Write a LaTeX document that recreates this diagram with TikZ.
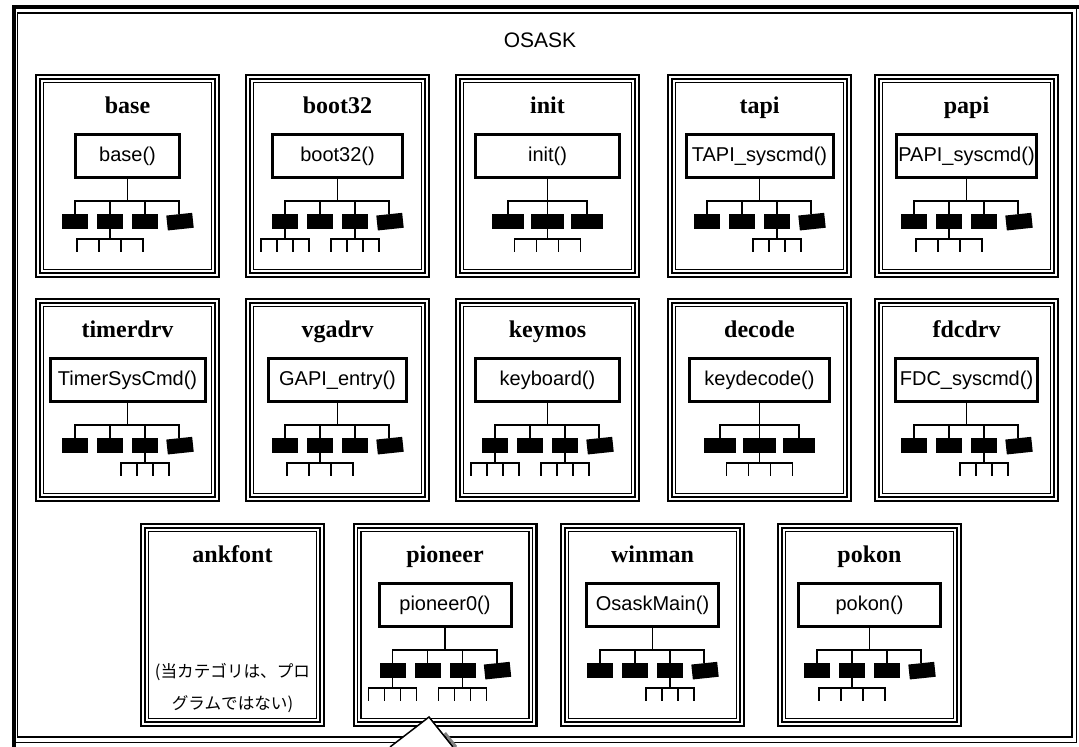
\documentclass[tikz,border=0pt]{standalone}
\usepackage{fontspec}
\setmainfont{Liberation Serif}
\setsansfont{Liberation Sans}
\newfontfamily\jpfont{Noto Sans CJK JP}
\usepackage{tikz}
\usetikzlibrary{trees, positioning, calc}
\tikzset{
  modbox/.style={draw, line width=1.15pt, minimum width=91.35pt, minimum height=100.85pt,
                 inner sep=0pt, outer sep=0pt},
  modtitle/.style={font=\fontsize{12}{14}\selectfont\bfseries, inner sep=0pt},
  func/.style={draw, line width=1.5pt, minimum height=21.5pt, inner xsep=1pt, inner ysep=0pt,
               outer sep=0pt, font=\sffamily\fontsize{10}{12}\selectfont},
  blk/.style={fill=black, minimum width=13pt, minimum height=7.5pt, inner sep=0pt, outer sep=0pt},
  blkwide/.style={blk, minimum width=16.25pt},
  narrowsub/.style={level 2/.append style={sibling distance=8pt}},
  trio/.style={sibling distance=19.75pt},
  osask/.style={font=\sffamily\fontsize{10.5}{12}\selectfont, inner sep=0pt},
  notecjk/.style={font=\jpfont\fontsize{8.3}{16}\selectfont, align=center, inner sep=0pt},
}

\begin{document}
\begin{tikzpicture}[
  x=1pt, y=1pt,
  level 1/.style={level distance=32.75pt, sibling distance=17.5pt,
    edge from parent path={(\tikzparentnode.south) -- ++(0,-11.75pt) -| (\tikzchildnode.north)}},
  level 2/.style={level distance=15.25pt, sibling distance=11pt,
    edge from parent path={(\tikzparentnode.south) -- ++(0,-5pt) -| (\tikzchildnode)}},
  edge from parent/.style={draw, line width=0.9pt},
]
\useasboundingbox (0,0) rectangle (539.5,-373.5);

% frame
\draw[line width=0.6pt] (8.75,-6.5) rectangle (536,-368.5);
\draw[line width=0.6pt] (7,-3.5) rectangle (538.25,-371.25);
\draw[line width=2pt] (7,-373.5) -- (7,-3.5) -- (539.5,-3.5);
\node[osask] (osask) at (270,-20) {OSASK};

% modules
\foreach \m/\x/\y in {base/63.75/-88, boot32/168.75/-88, init/273.75/-88, tapi/379.75/-88,
    papi/483.25/-88, timerdrv/63.75/-200, vgadrv/168.75/-200, keymos/273.75/-200,
    decode/379.75/-200, fdcdrv/483.25/-200, ankfont/116.25/-312.5, pioneer/222.5/-312.5,
    winman/326.25/-312.5, pokon/434.75/-312.5}{
  \node[modbox] (\m) at (\x,\y) {};
  \draw[line width=0.65pt] ([shift={(1.925pt,-1.925pt)}]\m.north west)
    rectangle ([shift={(-1.925pt,1.925pt)}]\m.south east);
  \draw[line width=0.85pt] ([shift={(3.675pt,-3.675pt)}]\m.north west)
    rectangle ([shift={(-3.675pt,3.675pt)}]\m.south east);
  \node[modtitle, anchor=base] (\m-t) at ([yshift=-19pt]\m.north) {\m};
}

% row 1
\node[func, minimum width=52pt] (basef) at ([yshift=-40.5pt]base.north) {base()}
  child {node[blk] {}}
  child {node[blk] {}
    child {coordinate} child {coordinate} child {coordinate} child {coordinate}}
  child {node[blk] {}}
  child {node[blk, rotate=6] {}};
\node[func, minimum width=65pt] (boot32f) at ([yshift=-40.5pt]boot32.north) {boot32()}
  child[narrowsub] {node[blk] {}
    child {coordinate} child {coordinate} child {coordinate} child {coordinate}}
  child {node[blk] {}}
  child[narrowsub] {node[blk] {}
    child {coordinate} child {coordinate} child {coordinate} child {coordinate}}
  child {node[blk, rotate=6] {}};
\node[func, minimum width=72pt] (initf) at ([yshift=-40.5pt]init.north) {init()}
  child[trio] {node[blkwide] {}}
  child[trio] {node[blkwide] {}
    child {coordinate} child {coordinate} child {coordinate} child {coordinate}}
  child[trio] {node[blkwide] {}};
\node[func, minimum width=73.5pt] (tapif) at ([yshift=-40.5pt]tapi.north) {TAPI\_syscmd()}
  child {node[blk] {}}
  child {node[blk] {}}
  child[narrowsub] {node[blk] {}
    child {coordinate} child {coordinate} child {coordinate} child {coordinate}}
  child {node[blk, rotate=6] {}};
\node[func, minimum width=67pt] (papif) at ([yshift=-40.5pt]papi.north) {PAPI\_syscmd()}
  child {node[blk] {}}
  child {node[blk] {}
    child {coordinate} child {coordinate} child {coordinate} child {coordinate}}
  child {node[blk] {}}
  child {node[blk, rotate=6] {}};

% row 2
\node[func, minimum width=77.5pt] (timerdrvf) at ([yshift=-40.5pt]timerdrv.north) {TimerSysCmd()}
  child {node[blk] {}}
  child {node[blk] {}}
  child[narrowsub] {node[blk] {}
    child {coordinate} child {coordinate} child {coordinate} child {coordinate}}
  child {node[blk, rotate=6] {}};
\node[func, minimum width=69pt] (vgadrvf) at ([yshift=-40.5pt]vgadrv.north) {GAPI\_entry()}
  child {node[blk] {}}
  child {node[blk] {}
    child {coordinate} child {coordinate} child {coordinate} child {coordinate}}
  child {node[blk] {}}
  child {node[blk, rotate=6] {}};
\node[func, minimum width=72pt] (keymosf) at ([yshift=-40.5pt]keymos.north) {keyboard()}
  child[narrowsub] {node[blk] {}
    child {coordinate} child {coordinate} child {coordinate} child {coordinate}}
  child {node[blk] {}}
  child[narrowsub] {node[blk] {}
    child {coordinate} child {coordinate} child {coordinate} child {coordinate}}
  child {node[blk, rotate=6] {}};
\node[func, minimum width=70pt] (decodef) at ([yshift=-40.5pt]decode.north) {keydecode()}
  child[trio] {node[blkwide] {}}
  child[trio] {node[blkwide] {}
    child {coordinate} child {coordinate} child {coordinate} child {coordinate}}
  child[trio] {node[blkwide] {}};
\node[func, minimum width=71pt] (fdcdrvf) at ([yshift=-40.5pt]fdcdrv.north) {FDC\_syscmd()}
  child {node[blk] {}}
  child {node[blk] {}}
  child[narrowsub] {node[blk] {}
    child {coordinate} child {coordinate} child {coordinate} child {coordinate}}
  child {node[blk, rotate=6] {}};

% row 3
\node[notecjk] (ankfontn) at ([yshift=-82pt]ankfont.north) {(当カテゴリは、プロ\\グラムではない)};
\node[func, minimum width=66pt] (pioneerf) at ([yshift=-40.5pt]pioneer.north) {pioneer0()}
  child[narrowsub] {node[blk] {}
    child {coordinate} child {coordinate} child {coordinate} child {coordinate}}
  child {node[blk] {}}
  child[narrowsub] {node[blk] {}
    child {coordinate} child {coordinate} child {coordinate} child {coordinate}}
  child {node[blk, rotate=6] {}};
\node[func, minimum width=66pt] (winmanf) at ([yshift=-40.5pt]winman.north) {OsaskMain()}
  child {node[blk] {}}
  child {node[blk] {}}
  child[narrowsub] {node[blk] {}
    child {coordinate} child {coordinate} child {coordinate} child {coordinate}}
  child {node[blk, rotate=6] {}};
\node[func, minimum width=71pt] (pokonf) at ([yshift=-40.5pt]pokon.north) {pokon()}
  child {node[blk] {}}
  child {node[blk] {}
    child {coordinate} child {coordinate} child {coordinate} child {coordinate}}
  child {node[blk] {}}
  child {node[blk, rotate=6] {}};

% callout
\coordinate (tip) at (214.5,-358.5);
\draw[gray, line width=1.5pt] (222.4,-366.5) -- (228,-373.5);
\filldraw[fill=white, line width=0.75pt] (195,-373.5) -- (tip) -- (226.5,-373.5);
\end{tikzpicture}
\end{document}
